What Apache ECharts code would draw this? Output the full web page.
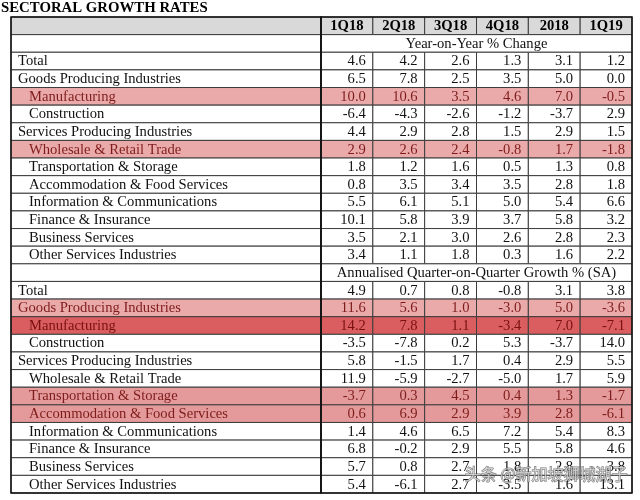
<!DOCTYPE html>
<html>
<head>
<meta charset="utf-8">
<script src="https://cdn.jsdelivr.net/npm/echarts@6/dist/echarts.min.js"></script>
<style>
  html, body { margin: 0; padding: 0; background: #fff; }
  #chart { width: 640px; height: 500px; }
</style>
</head>
<body>
<div id="chart"></div>
<script>
// ---------------- data ----------------
const chartTitle = 'SECTORAL GROWTH RATES';
const columns = ['1Q18', '2Q18', '3Q18', '4Q18', '2018', '1Q19'];
const sectionTitles = ['Year-on-Year % Change', 'Annualised Quarter-on-Quarter Growth % (SA)'];
const sectorNames = [
  'Total',
  'Goods Producing Industries',
  'Manufacturing',
  'Construction',
  'Services Producing Industries',
  'Wholesale & Retail Trade',
  'Transportation & Storage',
  'Accommodation & Food Services',
  'Information & Communications',
  'Finance & Insurance',
  'Business Services',
  'Other Services Industries'
];
const sectorIndent = [0, 0, 1, 1, 0, 1, 1, 1, 1, 1, 1, 1];
const yoyValues = [
  [4.6, 4.2, 2.6, 1.3, 3.1, 1.2],
  [6.5, 7.8, 2.5, 3.5, 5.0, 0.0],
  [10.0, 10.6, 3.5, 4.6, 7.0, -0.5],
  [-6.4, -4.3, -2.6, -1.2, -3.7, 2.9],
  [4.4, 2.9, 2.8, 1.5, 2.9, 1.5],
  [2.9, 2.6, 2.4, -0.8, 1.7, -1.8],
  [1.8, 1.2, 1.6, 0.5, 1.3, 0.8],
  [0.8, 3.5, 3.4, 3.5, 2.8, 1.8],
  [5.5, 6.1, 5.1, 5.0, 5.4, 6.6],
  [10.1, 5.8, 3.9, 3.7, 5.8, 3.2],
  [3.5, 2.1, 3.0, 2.6, 2.8, 2.3],
  [3.4, 1.1, 1.8, 0.3, 1.6, 2.2]
];
const qoqValues = [
  [4.9, 0.7, 0.8, -0.8, 3.1, 3.8],
  [11.6, 5.6, 1.0, -3.0, 5.0, -3.6],
  [14.2, 7.8, 1.1, -3.4, 7.0, -7.1],
  [-3.5, -7.8, 0.2, 5.3, -3.7, 14.0],
  [5.8, -1.5, 1.7, 0.4, 2.9, 5.5],
  [11.9, -5.9, -2.7, -5.0, 1.7, 5.9],
  [-3.7, 0.3, 4.5, 0.4, 1.3, -1.7],
  [0.6, 6.9, 2.9, 3.9, 2.8, -6.1],
  [1.4, 4.6, 6.5, 7.2, 5.4, 8.3],
  [6.8, -0.2, 2.9, 5.5, 5.8, 4.6],
  [5.7, 0.8, 2.7, 1.8, 2.8, 3.8],
  [5.4, -6.1, 2.7, -3.5, 1.6, 13.1]
];
// highlight level per sector row (0 = none)
const yoyHighlight = [0, 0, 1, 0, 0, 1, 0, 0, 0, 0, 0, 0];
const qoqHighlight = [0, 1, 3, 0, 0, 0, 2, 2, 0, 0, 0, 0];
const watermarkText = '头条 @新加坡狮城湖子';

// ---------------- styles ----------------
const FONT = "'Liberation Serif', 'Times New Roman', serif";
const FS = 14.6;
const highlightFill = ['#ffffff', '#ebaaaa', '#e49a9a', '#da5e60'];
const highlightText = ['#111111', '#7e1c1c', '#7e1c1c', '#7a1010'];
const headerFill = '#d9d9d9';
const gridLine = '#3c3c3c';

// ---------------- build table rows ----------------
const rows = [];
rows.push({ kind: 'header' });
[[yoyValues, yoyHighlight, 0], [qoqValues, qoqHighlight, 1]].forEach(([vals, hl, s]) => {
  rows.push({ kind: 'section', title: sectionTitles[s] });
  sectorNames.forEach((name, i) => {
    rows.push({ kind: 'sector', name, indent: sectorIndent[i], values: vals[i], level: hl[i] });
  });
});
const rowIds = rows.map((r, i) => 'r' + i);

const labelCells = [];
const valueCells = [];
rows.forEach((r, ri) => {
  if (r.kind === 'header') {
    labelCells.push({ row: ri, text: '', fill: headerFill, color: '#000', indent: 0 });
    columns.forEach((c, ci) => valueCells.push({ col: ci, row: ri, span: 1, text: c, fill: headerFill, color: '#000', bold: true, align: 'center' }));
  } else if (r.kind === 'section') {
    labelCells.push({ row: ri, text: '', fill: '#fff', color: '#000', indent: 0 });
    valueCells.push({ col: 0, row: ri, span: columns.length, text: r.title, fill: '#fff', color: '#111', bold: false, align: 'center' });
  } else {
    labelCells.push({ row: ri, text: r.name, fill: highlightFill[r.level], color: highlightText[r.level], indent: r.indent });
    r.values.forEach((v, ci) => valueCells.push({ col: ci, row: ri, span: 1, text: v.toFixed(1), fill: highlightFill[r.level], color: highlightText[r.level], bold: false, align: 'right' }));
  }
});

function cellRect(api, col, row, span) {
  const c = api.coord([col, row]);
  const s = api.size([1, 1]);
  return { x: c[0] - s[0] / 2, y: c[1] - s[1] / 2, w: s[0] * span, h: s[1] };
}

function renderLabel(params, api) {
  const d = labelCells[params.dataIndex];
  const r = cellRect(api, 0, d.row, 1);
  return {
    type: 'group',
    children: [
      { type: 'rect', shape: { x: r.x, y: r.y, width: r.w, height: r.h }, style: { fill: d.fill, stroke: gridLine, lineWidth: 1 } },
      { type: 'text', style: { text: d.text, x: r.x + (d.indent ? 18 : 7), y: r.y + r.h / 2 + 0.5, align: 'left', verticalAlign: 'middle', fontFamily: FONT, fontSize: FS, fill: d.color } }
    ]
  };
}

function renderValue(params, api) {
  const d = valueCells[params.dataIndex];
  const r = cellRect(api, d.col, d.row, d.span);
  const tx = d.align === 'right' ? r.x + r.w - 7 : r.x + r.w / 2;
  return {
    type: 'group',
    children: [
      { type: 'rect', shape: { x: r.x, y: r.y, width: r.w, height: r.h }, style: { fill: d.fill, stroke: gridLine, lineWidth: 1 } },
      { type: 'text', style: { text: d.text, x: tx, y: r.y + r.h / 2 + 0.5, align: d.align, verticalAlign: 'middle', fontFamily: FONT, fontSize: FS, fontWeight: d.bold ? 'bold' : 'normal', fill: d.color } }
    ]
  };
}

const chart = echarts.init(document.getElementById('chart'), null, { renderer: 'canvas' });
const hiddenAxis = { show: false };
chart.setOption({
  animation: false,
  backgroundColor: '#ffffff',
  title: {
    text: chartTitle, left: 1, top: 1, padding: 0,
    textStyle: { fontFamily: FONT, fontSize: 14.8, fontWeight: 'bold', color: '#000' }
  },
  grid: [
    { left: 11, top: 17, width: 310, height: 476, show: true, z: 10, backgroundColor: 'transparent', borderColor: '#111', borderWidth: 1.5 },
    { left: 321, top: 17, width: 311, height: 476, show: true, z: 10, backgroundColor: 'transparent', borderColor: '#111', borderWidth: 1.5 }
  ],
  xAxis: [
    Object.assign({ type: 'category', gridIndex: 0, data: ['label'] }, hiddenAxis),
    Object.assign({ type: 'category', gridIndex: 1, data: columns }, hiddenAxis)
  ],
  yAxis: [
    Object.assign({ type: 'category', gridIndex: 0, data: rowIds, inverse: true }, hiddenAxis),
    Object.assign({ type: 'category', gridIndex: 1, data: rowIds, inverse: true }, hiddenAxis)
  ],
  graphic: [
    {
      type: 'text', right: 12, top: 465, z: 100,
      style: {
        text: watermarkText, fontFamily: "'Noto Sans CJK SC', sans-serif", fontSize: 16,
        fill: 'rgba(255,255,255,0.6)', stroke: 'rgba(80,80,80,0.8)', lineWidth: 1
      }
    }
  ],
  series: [
    { type: 'custom', xAxisIndex: 0, yAxisIndex: 0, clip: false, renderItem: renderLabel, data: labelCells.map(c => [0, c.row]) },
    { type: 'custom', xAxisIndex: 1, yAxisIndex: 1, clip: false, renderItem: renderValue, data: valueCells.map(c => [c.col, c.row]) }
  ]
});
</script>
</body>
</html>
